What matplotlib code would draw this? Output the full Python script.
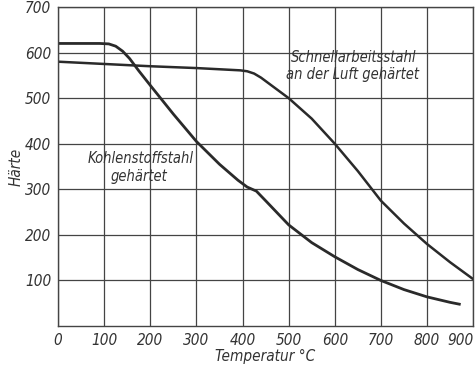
import matplotlib.pyplot as plt

# Kohlenstoffstahl gehärtet
carbT = [0, 90, 110, 125, 140, 155, 175, 200, 250, 300, 350, 390, 410, 430, 450, 500, 550, 600, 650, 700, 750, 800, 850, 870]
carbH = [620, 620, 619, 614, 603, 587, 560, 528, 465, 405, 355, 320, 305, 296, 275, 222, 183, 152, 124, 100, 80, 64, 52, 48]

# Schnellarbeitsstahl an der Luft gehärtet
hssT = [0, 100, 200, 300, 395, 410, 425, 440, 460, 500, 550, 600, 650, 700, 750, 800, 850, 900]
hssH = [580, 575, 570, 566, 561, 559, 554, 545, 530, 500, 455, 400, 340, 275, 225, 180, 140, 103]

xticks = [0, 100, 200, 300, 400, 500, 600, 700, 800, 900]
yticks = [100, 200, 300, 400, 500, 600, 700]

plt.rcParams['font.family'] = ['DejaVu Sans']
plt.rcParams['font.style'] = 'italic'
plt.rcParams['font.stretch'] = 'condensed'

fig = plt.figure(figsize=(4.76, 3.68), dpi=100)
ax = fig.add_axes([0.122, 0.114, 0.872, 0.867])

ax.plot(carbT, carbH, color="#2a2a2a", lw=2.0, solid_joinstyle="round")
ax.plot(hssT, hssH, color="#2a2a2a", lw=1.8, solid_joinstyle="round")

ax.set_xlim(0, 900)
ax.set_ylim(0, 700)
ax.set_xticks(xticks)
ax.set_yticks(yticks)
ax.set_xticklabels([str(t) for t in xticks], fontsize=11, color="#333333")
ax.set_yticklabels([str(t) for t in yticks], fontsize=11, color="#333333")
ax.get_xticklabels()[-1].set_ha("right")
ax.tick_params(length=0, pad=5)
ax.grid(True, color="#444444", lw=0.9)
for s in ax.spines.values():
    s.set_color("#444444")
    s.set_linewidth(1.0)

ax.text(178, 358, "Kohlenstoffstahl", fontsize=10.5, ha="center", color="#333333")
ax.text(175, 318, "gehärtet", fontsize=10.5, ha="center", color="#333333")
ax.text(505, 580, "Schnellarbeitsstahl", fontsize=10.5, ha="left", color="#333333")
ax.text(495, 542, "an der Luft gehärtet", fontsize=10.5, ha="left", color="#333333")

ax.set_xlabel("Temperatur °C", fontsize=11, color="#333333", labelpad=1)
ax.set_ylabel("Härte", fontsize=11, color="#333333", labelpad=1)

fig.savefig("out.png", dpi=100, facecolor="white")
